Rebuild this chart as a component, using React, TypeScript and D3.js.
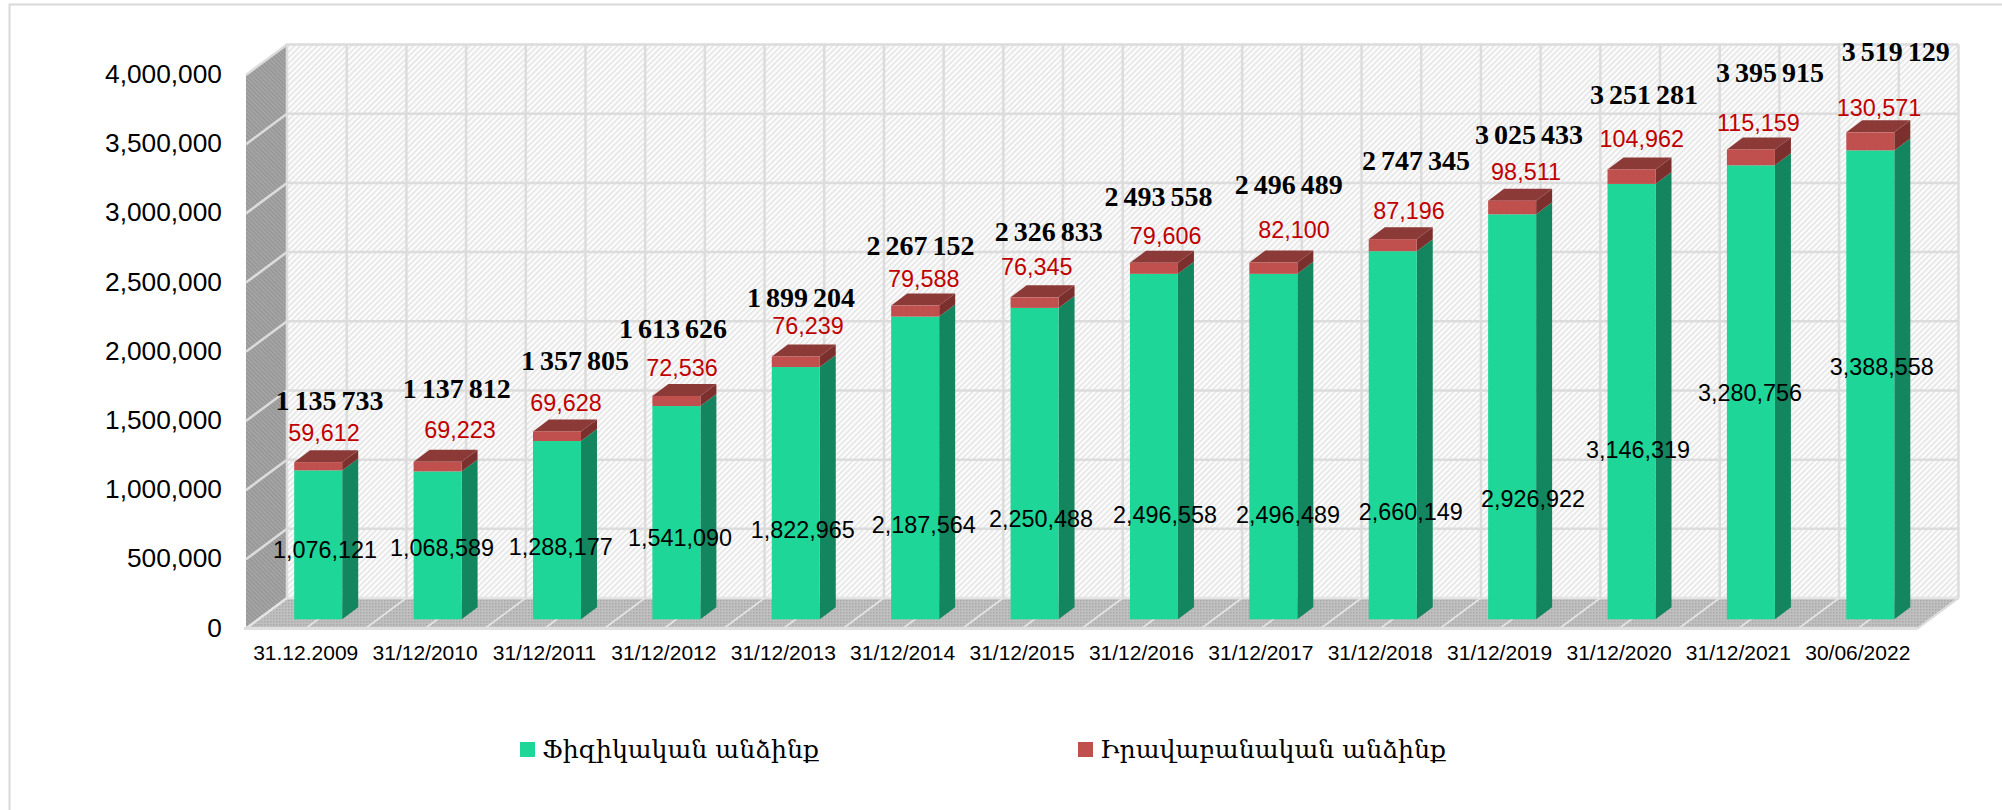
import React from "react";
import * as d3 from "d3";

const categories = ["31.12.2009","31/12/2010","31/12/2011","31/12/2012","31/12/2013","31/12/2014","31/12/2015","31/12/2016","31/12/2017","31/12/2018","31/12/2019","31/12/2020","31/12/2021","30/06/2022"];
const individuals = [1076121,1068589,1288177,1541090,1822965,2187564,2250488,2496558,2496489,2660149,2926922,3146319,3280756,3388558];
const legalEntities = [59612,69223,69628,72536,76239,79588,76345,79606,82100,87196,98511,104962,115159,130571];
const totalLabels = ["1 135 733","1 137 812","1 357 805","1 613 626","1 899 204","2 267 152","2 326 833","2 493 558","2 496 489","2 747 345","3 025 433","3 251 281","3 395 915","3 519 129"];
const yTicks = [0,500000,1000000,1500000,2000000,2500000,3000000,3500000,4000000];
const seriesNames = ["Ֆիզիկական անձինք","Իրավաբանական անձինք"];

// hand-placed data-label offsets of the original chart (px, relative to each bar)
const greenDx = [6.8,4.4,3.7,3.6,6.9,8.6,6.5,11.1,14.7,18,20.9,6.5,-0.9,11.4];
const greenDy = [-69.3,-71,-72,-81.3,-89.3,-94.3,-100.3,-104.6,-104.6,-107,-120,-169.3,-226,-252.6];
const redDx = [5.8,22.4,9,5.6,12.2,8.6,2.1,11.7,20.7,16.3,13.9,10.2,7.4,8.7];
const redDy = [-29.4,-31.8,-28.7,-27.7,-30.5,-26.5,-30,-26.8,-32.4,-28.1,-28.6,-30,-26,-24.3];
const totalDx = [11.3,19.1,18,-3.4,5.2,5.4,14.2,4.6,15.5,23.3,16.9,12.5,19.1,25.4];
const totalDy = [-62.1,-73.8,-71.4,-68,-58.5,-59.8,-65.6,-66.1,-78.4,-79.1,-66.6,-75.3,-77.3,-81.3];

const W = 2002, H = 810;
const left = 246, right = 1917.5, front0 = 628.5, front4 = 75;
const depthX = 41, depthY = -30.5;
const barDX = 12.5, barDY = -9.2, barW = 48, barDepthX = 16, barDepthY = -12;

const GREEN = "#1dd698", GREEN_SIDE = "#13865f", RED = "#c0504d", RED_SIDE = "#7c302e", RED_TOP = "#8c3a37";
const GRID = "#dcdcdc";

export default function App() {
  const x = d3.scaleBand<string>().domain(categories).range([left, right]).paddingInner(0).paddingOuter(0);
  const y = d3.scaleLinear().domain([0, 4000000]).range([front0, front4]);
  const fmt = d3.format(",");
  const gridX = d3.range(0, categories.length * 2 + 1).map((i) => left + (i * x.bandwidth()) / 2);
  const backLeft = left + depthX, backRight = right + depthX;
  const barX = (c: string) => x(c)! + x.bandwidth() / 2 + barDX - barW / 2;
  const barY = (v: number) => y(v) + barDY;

  return (
    <svg width={W} height={H} viewBox={`0 0 ${W} ${H}`} style={{ position: "absolute", left: 0, top: 0, background: "#fff" }}>
      <defs>
        <pattern id="wall" width="4" height="4" patternUnits="userSpaceOnUse" patternTransform="rotate(45)">
          <rect width="4" height="4" fill="#fcfcfc" />
          <rect width="1.5" height="4" fill="#e3e3e3" />
        </pattern>
        <pattern id="side" width="3" height="3" patternUnits="userSpaceOnUse" patternTransform="rotate(-45)">
          <rect width="3" height="3" fill="#a6a6a6" />
          <rect width="1.2" height="3" fill="#939393" />
        </pattern>
        <pattern id="floor" width="3" height="3" patternUnits="userSpaceOnUse">
          <rect width="3" height="3" fill="#c0c0c0" />
          <rect width="1.5" height="1.5" fill="#a8a8a8" />
        </pattern>
      </defs>

      <path d="M9.5 810V4.5H2002" fill="none" stroke="#d9d9d9" strokeWidth={2} />

      {/* back wall */}
      <rect x={backLeft} y={front4 + depthY} width={backRight - backLeft} height={front0 - front4} fill="url(#wall)" />
      {/* left wall */}
      <path d={`M${left} ${front4}L${backLeft} ${front4 + depthY}V${front0 + depthY}L${left} ${front0}Z`} fill="url(#side)" />
      {/* floor */}
      <path d={`M${left} ${front0}L${backLeft} ${front0 + depthY}H${backRight}L${right} ${front0}Z`} fill="url(#floor)" />

      {/* gridlines */}
      <g stroke={GRID} strokeWidth={2.5} fill="none">
        {yTicks.map((t) => (
          <path key={t} d={`M${left} ${y(t)}L${backLeft} ${y(t) + depthY}H${backRight}`} stroke={t === 0 ? "#e4e4e4" : GRID} />
        ))}
        {gridX.map((gx, i) => (
          <g key={i}>
            <line x1={gx + depthX} x2={gx + depthX} y1={front4 + depthY} y2={front0 + depthY} />
            <line x1={gx} x2={gx + depthX} y1={front0} y2={front0 + depthY} strokeWidth={1.6} stroke="#e4e4e4" />
          </g>
        ))}
        <line x1={left - 2} x2={right} y1={front0} y2={front0} strokeWidth={3} stroke="#e0e0e0" />
        <line x1={right} x2={backRight} y1={front0} y2={front0 + depthY} strokeWidth={2} />
      </g>

      {/* bars */}
      {categories.map((c, i) => {
        const bx = barX(c);
        const y0 = barY(0), y1 = barY(individuals[i]), y2 = barY(individuals[i] + legalEntities[i]);
        const rx = bx + barW;
        return (
          <g key={c}>
            <path d={`M${rx} ${y0}l${barDepthX} ${barDepthY}V${y1 + barDepthY}L${rx} ${y1}Z`} fill={GREEN_SIDE} />
            <path d={`M${rx} ${y1}l${barDepthX} ${barDepthY}V${y2 + barDepthY}L${rx} ${y2}Z`} fill={RED_SIDE} />
            <path d={`M${bx} ${y2}l${barDepthX} ${barDepthY}h${barW}l${-barDepthX} ${-barDepthY}Z`} fill={RED_TOP} />
            <rect x={bx} y={y1} width={barW} height={y0 - y1} fill={GREEN} />
            <rect x={bx} y={y2} width={barW} height={y1 - y2} fill={RED} />
          </g>
        );
      })}

      {/* y axis */}
      <g fontFamily="'Liberation Sans', Arial, sans-serif" fontSize={26.3} fill="#000" textAnchor="end" dominantBaseline="central">
        {yTicks.map((t) => (
          <text key={t} x={222} y={y(t) - 1}>{fmt(t)}</text>
        ))}
      </g>
      {/* x axis */}
      <g fontFamily="'Liberation Sans', Arial, sans-serif" fontSize={21} fill="#000" textAnchor="middle" dominantBaseline="central">
        {categories.map((c) => (
          <text key={c} x={x(c)! + x.bandwidth() / 2} y={652}>{c}</text>
        ))}
      </g>

      {/* data labels */}
      <g fontFamily="'Liberation Sans', Arial, sans-serif" fontSize={23.4} textAnchor="middle" dominantBaseline="central">
        {categories.map((c, i) => {
          const cx = barX(c) + barW / 2;
          const top = barY(individuals[i] + legalEntities[i]);
          return (
            <g key={c}>
              <text x={cx + greenDx[i]} y={barY(0) + greenDy[i]} fill="#000">{fmt(individuals[i])}</text>
              <text x={cx + redDx[i]} y={top + redDy[i]} fill="#c00000">{fmt(legalEntities[i])}</text>
            </g>
          );
        })}
      </g>
      <g fontFamily="'Liberation Serif', 'Times New Roman', serif" fontWeight="bold" fontSize={28} wordSpacing={-2} textAnchor="middle" dominantBaseline="central" fill="#000">
        {categories.map((c, i) => {
          const cx = barX(c) + barW / 2;
          const top = barY(individuals[i] + legalEntities[i]);
          return <text key={c} x={cx + totalDx[i]} y={top + totalDy[i]}>{totalLabels[i]}</text>;
        })}
      </g>

      {/* legend */}
      <g fontFamily="'DejaVu Serif Condensed', 'DejaVu Serif', serif" fontSize={24} fill="#000" dominantBaseline="central">
        <rect x={520} y={742} width={15} height={15} fill={GREEN} />
        <text x={542} y={750} textLength={277} lengthAdjust="spacingAndGlyphs">{seriesNames[0]}</text>
        <rect x={1078} y={742} width={15} height={15} fill={RED} />
        <text x={1100} y={750} textLength={346} lengthAdjust="spacingAndGlyphs">{seriesNames[1]}</text>
      </g>
    </svg>
  );
}
